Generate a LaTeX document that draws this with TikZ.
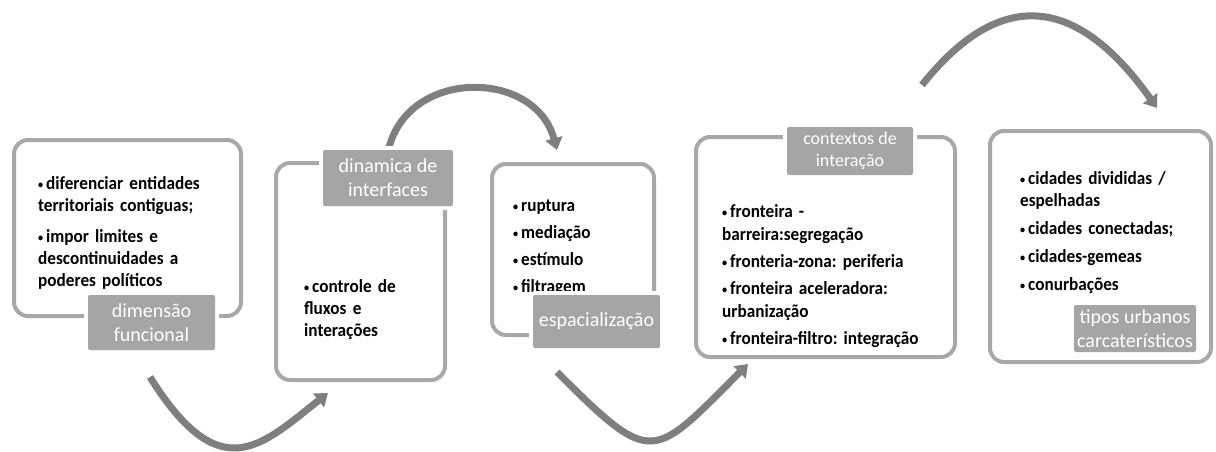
\documentclass[tikz,border=0pt]{standalone}
\usepackage{fontspec}
\setmainfont{Carlito}
\newfontfamily\condfont{Carlito}[FakeStretch=0.93]
\usetikzlibrary{arrows.meta}
\definecolor{bordergray}{HTML}{A8A8A8}
\definecolor{labelgray}{HTML}{A5A5A5}
\definecolor{arrowgray}{HTML}{7F7F7F}
\newcommand{\itm}[1]{\par\hangindent=8pt\hangafter=1\noindent\strut\makebox[8pt][l]{\raisebox{1.5pt}{\fontsize{11}{11}\selectfont\textbullet}}#1}
\newcommand{\pskip}[1]{\raggedright\frenchspacing\setlength{\parskip}{#1}}
\tikzset{
  box/.style={draw=bordergray, line width=4pt, rounded corners=14pt, inner sep=0pt, outer sep=0pt},
  lbl/.style={fill=labelgray, text=white, rounded corners=2pt, inner sep=0pt, align=center,
              font=\fontsize{20}{24}\selectfont, preaction={draw=white, line width=8pt}},
  txt/.style={anchor=north west, inner sep=0pt, text width=#1, align=left,
              font=\condfont\fontsize{18.5}{22}\selectfont\bfseries},
  flow/.style={draw=arrowgray, line width=7pt, -{Triangle[width=17pt,length=12pt]}}
}
\begin{document}
\begin{tikzpicture}[x=1pt,y=-1pt]
\useasboundingbox (0,0) rectangle (1216,451);
% boxes
\node[box, minimum width=227pt, minimum height=176pt] (b1) at (127.5,228) {};
\node[box, minimum width=169pt, minimum height=217pt] (b2) at (360.5,271.5) {};
\node[box, minimum width=162pt, minimum height=171pt] (b3) at (573,249.5) {};
\node[box, minimum width=259pt, minimum height=220pt] (b4) at (825.5,247) {};
\node[box, minimum width=221pt, minimum height=231pt] (b5) at (1100.5,246.5) {};
% arrows
\coordinate (a1s) at (150,377);
\coordinate (a1e) at (328,393);
\coordinate (a2s) at (388,152);
\coordinate (a2e) at (557,150);
\coordinate (a3s) at (557,372);
\coordinate (a3e) at (748,364);
\coordinate (a4s) at (922,85);
\coordinate (a4e) at (1157,108);
\draw[flow] (a1s) .. controls (220,489) and (261,446) .. (a1e);
\draw[flow] (a2s) .. controls (405,68) and (535,68) .. (a2e);
\draw[flow] (a3s) .. controls (653,468) and (652,460) .. (a3e);
\draw[flow] (a4s) .. controls (992,-3) and (1069,-16) .. (a4e);
% texts
\node[txt=200pt] (t1) at (38,158.6) {\pskip{9pt}%
  \itm{diferenciar entidades\\territoriais contiguas;}%
  \itm{impor limites e\\descontinuidades a\\poderes políticos}};
\node[txt=135pt] (t2) at (304,270.6) {\pskip{0pt}\itm{controle de\\fluxos e\\interações}};
\node[txt=130pt] (t3) at (513,184.6) {\pskip{5pt}%
  \itm{ruptura}\itm{mediação}\itm{estímulo}\itm{filtragem}};
\node[txt=232pt, font=\condfont\fontsize{18.5}{23}\selectfont\bfseries] (t4) at (722,190.4) {\pskip{4pt}%
  \itm{fronteira -\\barreira:segregação}%
  \itm{fronteria-zona: periferia}%
  \itm{fronteira aceleradora:\\urbanização}%
  \itm{fronteira-filtro: integração}};
\node[txt=185pt] (t5) at (1020,156.6) {\pskip{6pt}%
  \itm{cidades divididas /\\espelhadas}%
  \itm{cidades conectadas;}%
  \itm{cidades-gemeas}%
  \itm{conurbações}};
% labels
\node[lbl, minimum width=127pt, minimum height=55pt] (l1) at (151.5,322.5) {dimensão\\funcional};
\node[lbl, minimum width=130pt, minimum height=56pt] (l2) at (388,178) {dinamica de\\interfaces};
\node[lbl, minimum width=127pt, minimum height=53pt] (l3) at (596.5,321.5) {espacialização};
\node[lbl, minimum width=126pt, minimum height=48pt, font=\fontsize{18}{22}\selectfont] (l4) at (850,151) {contextos de\\interação};
\node[lbl, minimum width=122pt, minimum height=47pt] (l5) at (1135,328.5) {tipos urbanos\\carcaterísticos};
\end{tikzpicture}
\end{document}
